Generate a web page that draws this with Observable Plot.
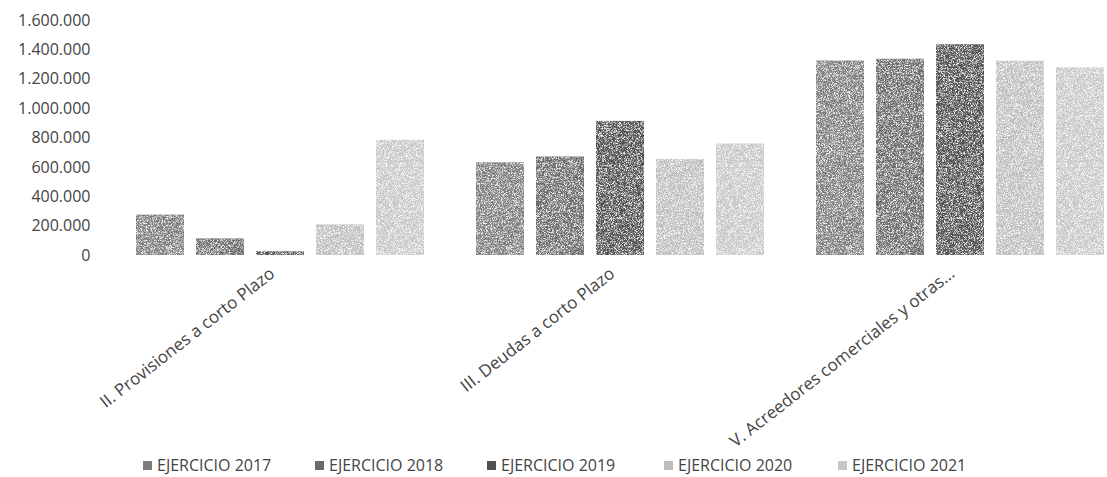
<!DOCTYPE html>
<html><head><meta charset="utf-8">
<script src="https://cdn.jsdelivr.net/npm/d3@7"></script>
<script src="https://cdn.jsdelivr.net/npm/@observablehq/plot@0.6"></script>
<style>
body{margin:0;background:#fff;font-family:"Open Sans",sans-serif;}
#legend{position:relative;width:1107px;height:25px;font-size:16px;color:#444;}
.item{position:absolute;top:2px;display:flex;align-items:center;white-space:nowrap;}
.sw{width:9px;height:9px;margin-right:5px;}
</style></head><body>
<div id="chart"></div><div id="legend"></div>
<script>
const categories = ["II. Provisiones a corto Plazo", "III. Deudas a corto Plazo", "V. Acreedores comerciales y otras..."];
const series = ["EJERCICIO 2017", "EJERCICIO 2018", "EJERCICIO 2019", "EJERCICIO 2020", "EJERCICIO 2021"];
const v2017 = [275000, 631000, 1324000];
const v2018 = [113000, 671000, 1336000];
const v2019 = [25000, 913000, 1435000];
const v2020 = [208000, 653000, 1322000];
const v2021 = [784000, 759000, 1277000];
const yTicks = [0, 200000, 400000, 600000, 800000, 1000000, 1200000, 1400000, 1600000];
const colors = ["#7c7c7c", "#6a6a6a", "#505050", "#bdbdbd", "#c6c6c6"];

const valuesBySeries = [v2017, v2018, v2019, v2020, v2021];
const data = [];
series.forEach((s, i) => categories.forEach((c, j) => data.push({cat: c, series: s, value: valuesBySeries[i][j]})));

const fmt = d3.formatLocale({decimal: ",", thousands: ".", grouping: [3], currency: ["", "€"]}).format(",d");

const chart = Plot.plot({
  width: 1107, height: 452,
  marginLeft: 133, marginRight: 0, marginTop: 20, marginBottom: 197,
  style: {fontFamily: "Open Sans", fontSize: "16px", color: "#444", background: "white", overflow: "visible"},
  fx: {domain: categories, paddingInner: 0.14, paddingOuter: 0, label: null},
  x: {domain: series, paddingInner: 0.2, paddingOuter: 0, axis: null},
  y: {domain: [0, 1600000], label: null},
  color: {domain: series, range: colors},
  marks: [
    Plot.axisY({ticks: yTicks, tickFormat: fmt, tickSize: 0, tickPadding: 44, label: null, fontSize: 16}),
    Plot.axisFx({anchor: "bottom", tickSize: 0, tickRotate: -38, tickPadding: 16, dx: -8, label: null, fontSize: 17}),
    Plot.barY(data, {fx: "cat", x: "series", y: "value", fill: "series", imageFilter: "url(#grain)"})
  ]
});
const ns = "http://www.w3.org/2000/svg";
const defs = document.createElementNS(ns, "defs");
defs.innerHTML = `<filter id="grain" x="0" y="0" width="100%" height="100%" color-interpolation-filters="sRGB">
  <feTurbulence type="fractalNoise" baseFrequency="2.6" numOctaves="1" seed="7" result="n"/>
  <feColorMatrix in="n" type="matrix" values="0 0 0 0 1  0 0 0 0 1  0 0 0 0 1  0 0 0 -3.2 1.85" result="w"/>
  <feComposite in="w" in2="SourceGraphic" operator="in" result="wm"/>
  <feMerge><feMergeNode in="SourceGraphic"/><feMergeNode in="wm"/></feMerge>
</filter>`;
chart.insertBefore(defs, chart.firstChild);
document.getElementById("chart").appendChild(chart);

const legend = document.getElementById("legend");
const legendX = [143, 315, 487, 664, 838];
series.forEach((s, i) => {
  const it = document.createElement("div");
  it.className = "item";
  it.style.left = legendX[i] + "px";
  it.innerHTML = `<span class="sw" style="background:${colors[i]}"></span><span>${s}</span>`;
  legend.appendChild(it);
});
</script>
</body></html>
